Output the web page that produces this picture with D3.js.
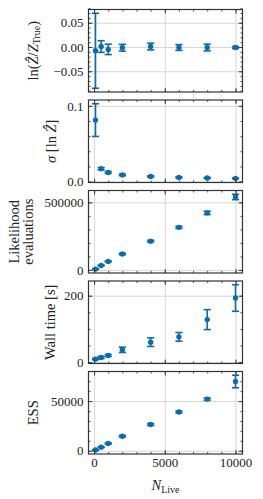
<!DOCTYPE html>
<html>
<head>
<meta charset="utf-8">
<script src="https://cdn.jsdelivr.net/npm/d3@7"></script>
<style>
  html, body { margin: 0; padding: 0; background: #fff; }
  svg { display: block; }
  text { font-family: "Liberation Serif", "DejaVu Serif", serif; fill: #222; }
</style>
</head>
<body>
<script>
// ---------- data ----------
const nLive = [100, 500, 1000, 2000, 4000, 6000, 8000, 10000];

const lnZ      = [-0.0077, 0.001, -0.0049, -0.0015, 0.001, -0.001, -0.001, -0.001];
const lnZErr   = [0.0773, 0.012, 0.0107, 0.007, 0.007, 0.006, 0.007, 0.002];

const sigma    = [0.0812, 0.017, 0.012, 0.0088, 0.0068, 0.0055, 0.0048, 0.0042];
const sigmaErr = [0.0216, 0.0015, 0.0012, 0.001, 0.0008, 0.0006, 0.0006, 0.0005];

const likeEvals    = [6000, 33000, 63000, 118000, 213000, 315000, 422000, 540000];
const likeEvalsErr = [1000, 2000, 3000, 5000, 6000, 8000, 12000, 20000];

const wallTime    = [9, 14, 20, 37, 60, 76, 128, 193];
const wallTimeErr = [2, 3, 3, 8, 13, 13, 30, 40];

const ess    = [700, 3600, 7300, 14600, 26400, 39000, 52000, 69700];
const essErr = [200, 400, 600, 800, 900, 1000, 1200, 6300];

const xMajorTicks = [0, 5000, 10000];
const xMinorTicks = d3.range(0, 10001, 1000);

const panels = [
  { values: lnZ, errors: lnZErr, major: [-0.05, 0, 0.05], minor: d3.range(-0.09, 0.0801, 0.01), fmt: d3.format(".2f"), label: "lnZ", labelX: 35 },
  { values: sigma, errors: sigmaErr, major: [0, 0.1], minor: d3.range(0, 0.1001, 0.02), fmt: d3.format(".1f"), label: "sigma", labelX: 53 },
  { values: likeEvals, errors: likeEvalsErr, major: [0, 500000], minor: d3.range(0, 500001, 100000), fmt: d3.format("d"), label: "like", labelX: 16 },
  { values: wallTime, errors: wallTimeErr, major: [0, 200], minor: d3.range(0, 201, 50), fmt: d3.format("d"), label: "wall", labelX: 52 },
  { values: ess, errors: essErr, major: [0, 50000], minor: d3.range(0, 70001, 10000), fmt: d3.format("d"), label: "ess", labelX: 35 }
];

// ---------- layout ----------
const W = 263, H = 499;
const left = 88.5, right = 242.5;
const tops = [9.5, 100, 190.5, 281, 371.5];
const ph = 82.5;
const blue = "#0a6cb0";
const frameColor = "#333";
const gridColor = "#d6d6d6";
const fs = 13;
const lfs = 14.5;

const svg = d3.select("body").append("svg").attr("width", W).attr("height", H);

function pad(lo, hi) { const m = (hi - lo) * 0.05; return [lo - m, hi + m]; }

const xDom = pad(d3.min(nLive), d3.max(nLive));
const x = d3.scaleLinear().domain(xDom).range([left, right]);

panels.forEach((p, i) => {
  const top = tops[i], bottom = top + ph;
  const lo = d3.min(p.values.map((v, j) => v - p.errors[j]));
  const hi = d3.max(p.values.map((v, j) => v + p.errors[j]));
  const y = d3.scaleLinear().domain(pad(lo, hi)).range([bottom, top]);
  const g = svg.append("g");
  const w = right - left, h = bottom - top;

  // grid
  g.append("g").attr("transform", `translate(0,${bottom})`)
    .call(d3.axisBottom(x).tickValues(xMajorTicks).tickSize(-h).tickFormat(""))
    .call(a => { a.select(".domain").remove(); a.selectAll("line").attr("stroke", gridColor).attr("stroke-width", 1); });
  g.append("g").attr("transform", `translate(${left},0)`)
    .call(d3.axisLeft(y).tickValues(p.major).tickSize(-w).tickFormat(""))
    .call(a => { a.select(".domain").remove(); a.selectAll("line").attr("stroke", gridColor).attr("stroke-width", 1); });

  // error bars + points
  const pts = g.append("g");
  nLive.forEach((n, j) => {
    const cx = x(n), y0 = y(p.values[j] - p.errors[j]), y1 = y(p.values[j] + p.errors[j]);
    pts.append("line").attr("x1", cx).attr("x2", cx).attr("y1", y0).attr("y2", y1)
      .attr("stroke", blue).attr("stroke-width", 1.6);
    [y0, y1].forEach(yy => pts.append("line").attr("x1", cx - 3.6).attr("x2", cx + 3.6)
      .attr("y1", yy).attr("y2", yy).attr("stroke", blue).attr("stroke-width", 1.6));
  });
  pts.selectAll("circle").data(nLive).join("circle")
    .attr("cx", d => x(d)).attr("cy", (d, j) => y(p.values[j])).attr("r", 2.7).attr("fill", blue);

  // ticks (inward on all sides)
  const tickStyle = a => { a.select(".domain").remove(); a.selectAll("line").attr("stroke", frameColor).attr("stroke-width", 0.9); };
  g.append("g").attr("transform", `translate(${left},0)`)
    .call(d3.axisLeft(y).tickValues(p.minor).tickSize(-2).tickFormat("")).call(tickStyle);
  g.append("g").attr("transform", `translate(${right},0)`)
    .call(d3.axisRight(y).tickValues(p.minor).tickSize(-2).tickFormat("")).call(tickStyle);
  g.append("g").attr("transform", `translate(${right},0)`)
    .call(d3.axisRight(y).tickValues(p.major).tickSize(-4).tickFormat("")).call(tickStyle);
  const yAx = g.append("g").attr("transform", `translate(${left},0)`)
    .call(d3.axisLeft(y).tickValues(p.major).tickSize(-4).tickPadding(5).tickFormat(p.fmt)).call(tickStyle);
  yAx.selectAll("text").attr("font-size", fs).attr("font-family", null).attr("fill", "#222");

  g.append("g").attr("transform", `translate(0,${top})`)
    .call(d3.axisTop(x).tickValues(xMinorTicks).tickSize(-2).tickFormat("")).call(tickStyle);
  g.append("g").attr("transform", `translate(0,${top})`)
    .call(d3.axisTop(x).tickValues(xMajorTicks).tickSize(-4).tickFormat("")).call(tickStyle);
  g.append("g").attr("transform", `translate(0,${bottom})`)
    .call(d3.axisBottom(x).tickValues(xMinorTicks).tickSize(-2).tickFormat("")).call(tickStyle);
  const xAx = g.append("g").attr("transform", `translate(0,${bottom})`)
    .call(d3.axisBottom(x).tickValues(xMajorTicks).tickSize(-4).tickPadding(4)
      .tickFormat(i === panels.length - 1 ? d3.format("d") : "")).call(tickStyle);
  xAx.selectAll("text").attr("font-size", fs).attr("font-family", null).attr("fill", "#222");

  // frame
  g.append("rect").attr("x", left).attr("y", top).attr("width", w).attr("height", h)
    .attr("fill", "none").attr("stroke", frameColor).attr("stroke-width", 1.2);

  // y label
  const cy = (top + bottom) / 2;
  const lab = (lx) => g.append("text").attr("font-size", lfs).attr("text-anchor", "middle")
    .attr("dominant-baseline", "middle")
    .attr("transform", `translate(${lx},${cy}) rotate(-90)`);
  if (p.label === "lnZ") {
    const t = lab(p.labelX);
    t.append("tspan").text("ln(");
    t.append("tspan").attr("font-style", "italic").text("Ẑ");
    t.append("tspan").text("/");
    t.append("tspan").attr("font-style", "italic").text("Z");
    t.append("tspan").attr("font-size", 10).attr("dy", 3).text("True");
    t.append("tspan").attr("dy", -3).text(")");
  } else if (p.label === "sigma") {
    const t = lab(p.labelX);
    t.append("tspan").attr("font-style", "italic").text("σ");
    t.append("tspan").text(" [ln ");
    t.append("tspan").attr("font-style", "italic").text("Ẑ");
    t.append("tspan").text("]");
  } else if (p.label === "like") {
    lab(16).text("Likelihood");
    lab(30).text("evaluations");
  } else if (p.label === "wall") {
    lab(p.labelX).text("Wall time [s]");
  } else {
    lab(p.labelX).text("ESS");
  }
});

// x label
const xl = svg.append("text").attr("font-size", lfs).attr("text-anchor", "middle")
  .attr("x", (left + right) / 2).attr("y", 490);
xl.append("tspan").attr("font-style", "italic").text("N");
xl.append("tspan").attr("font-size", 10).attr("dy", 3).text("Live");
</script>
</body>
</html>
